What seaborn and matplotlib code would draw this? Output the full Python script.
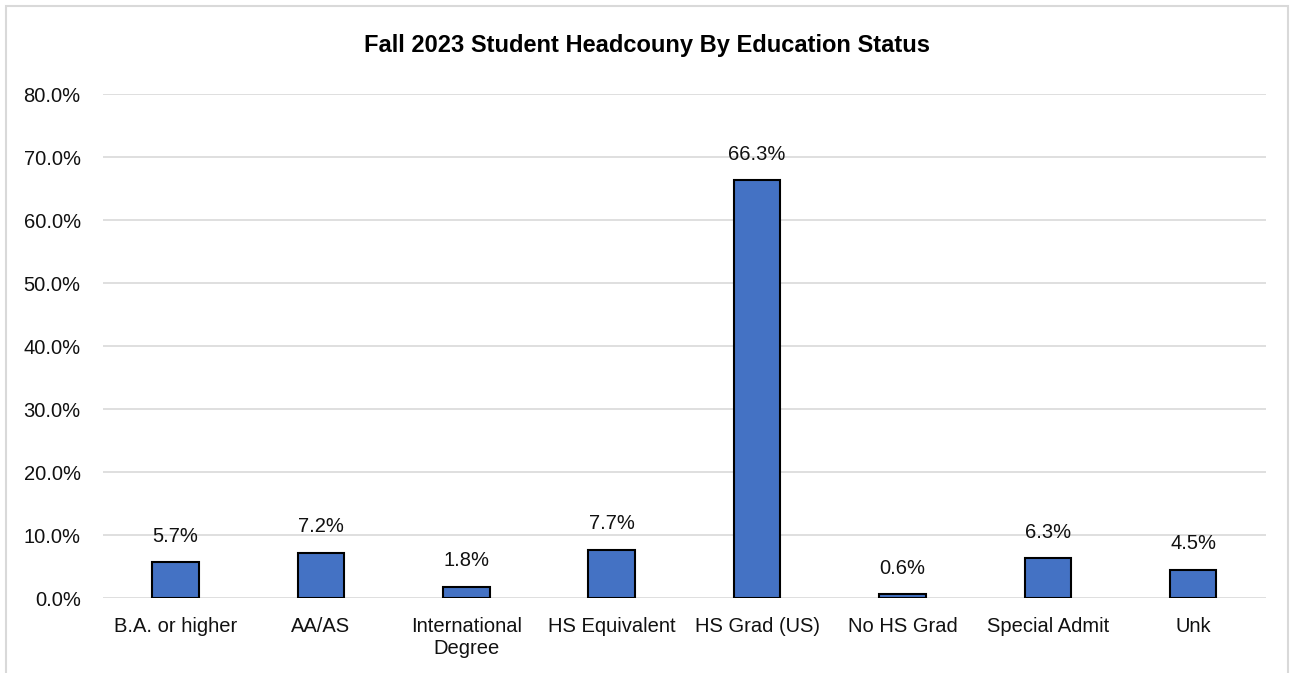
import pandas as pd
import matplotlib.pyplot as plt
import seaborn as sns
from matplotlib.patches import Rectangle
from matplotlib.ticker import FuncFormatter

# Data
categories = ["B.A. or higher", "AA/AS", "International\nDegree", "HS Equivalent",
              "HS Grad (US)", "No HS Grad", "Special Admit", "Unk"]
percent = [5.7, 7.2, 1.8, 7.7, 66.3, 0.6, 6.3, 4.5]

df = pd.DataFrame({"status": categories, "pct": percent})

sns.set_theme(style="white")
plt.rcParams['font.family'] = ['Liberation Sans Narrow', 'Liberation Sans', 'DejaVu Sans']

fig = plt.figure(figsize=(12.95, 6.73), dpi=100)
ax = fig.add_axes([0.0795, 0.1114, 0.898, 0.7489])

sns.barplot(data=df, x="status", y="pct", color="#4472C4", width=0.32,
            edgecolor="black", linewidth=1.5, saturation=1, ax=ax, zorder=3)

for i, v in enumerate(percent):
    ax.text(i, v + 2.6, f"{v:.1f}%", ha="center", va="bottom", fontsize=14.5, color="#111111", zorder=4)

ax.set_ylim(0, 80)
ax.set_yticks(range(0, 81, 10))
ax.yaxis.set_major_formatter(FuncFormatter(lambda y, _: f"{y:.1f}%"))
ax.grid(axis="y", color="#d9d9d9", linewidth=1.2, zorder=0)
ax.set_axisbelow(True)
for s in ax.spines.values():
    s.set_visible(False)
ax.tick_params(axis="both", length=0, labelsize=14.5, colors="#111111")
ax.tick_params(axis="y", pad=16)
ax.tick_params(axis="x", pad=14)
ax.set_xlabel("")
ax.set_ylabel("")

fig.text(0.5, 0.933, "Fall 2023 Student Headcouny By Education Status", ha="center", va="center",
         fontsize=17, fontweight="bold", color="black")

fig.patches.append(Rectangle((6 / 1295, -0.05), 1282 / 1295, 1.05 - 6 / 673, transform=fig.transFigure,
                             fill=False, edgecolor="#d9d9d9", linewidth=1.5))

plt.savefig("out.png", dpi=100)
